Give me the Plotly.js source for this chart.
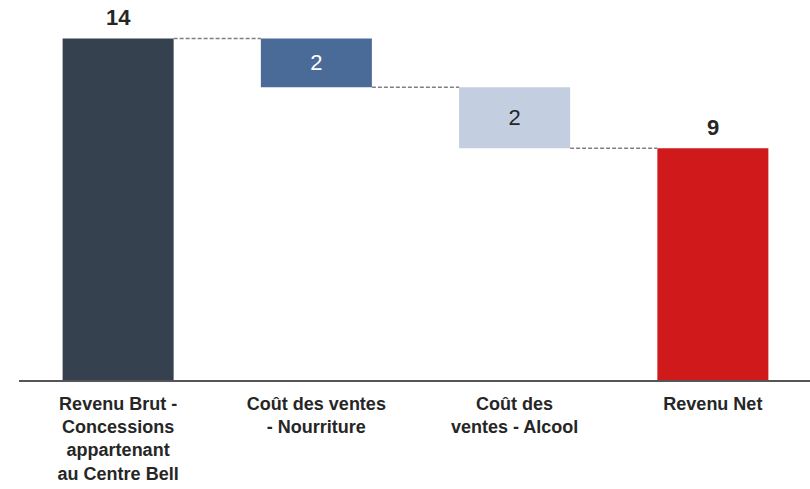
<!DOCTYPE html>
<html>
<head>
<meta charset="utf-8">
<script src="https://cdn.plot.ly/plotly-3.0.1.min.js"></script>
<style>
  html, body { margin: 0; padding: 0; background: #fff; }
  #chart { width: 810px; height: 489px; }
</style>
</head>
<body>
<div id="chart"></div>
<script>
// étapes du waterfall
const categories = [
  "Revenu Brut -<br>Concessions<br>appartenant<br>au Centre Bell",
  "Coût des ventes<br>- Nourriture",
  "Coût des<br>ventes - Alcool",
  "Revenu Net",
];
const values = [14.0, -2.0, -2.5, 9.5];
const isTotal = [true, false, false, true];
const barColors = ["#36414f", "#4a6a98", "#c3cee0", "#d0191b"];
const innerTextColors = ["#ffffff", "#ffffff", "#262626", "#ffffff"];

// bases et hauteurs
const bases = [];
const heights = [];
const levels = [];
let running = 0;
values.forEach((v, i) => {
  if (isTotal[i]) {
    bases.push(0);
    heights.push(v);
    running = v;
  } else {
    bases.push(running + v);
    heights.push(-v);
    running = running + v;
  }
  levels.push(running);
});

const labels = values.map((v) => String(Math.floor(Math.abs(v))));
const barWidth = 0.56;
const font = "Liberation Sans, Arial, sans-serif";

const trace = {
  type: "bar",
  x: categories,
  y: heights,
  base: bases,
  width: barWidth,
  marker: { color: barColors },
  text: labels.map((t, i) => (isTotal[i] ? "" : t)),
  textposition: "inside",
  insidetextanchor: "middle",
  textfont: { family: font, size: 22, color: innerTextColors },
  hoverinfo: "skip",
};

// totaux au-dessus des barres
const annotations = values
  .map((v, i) => ({ v, i }))
  .filter((d) => isTotal[d.i])
  .map((d) => ({
    x: d.i,
    y: d.v,
    xref: "x",
    yref: "y",
    text: "<b>" + labels[d.i] + "</b>",
    showarrow: false,
    yanchor: "bottom",
    yshift: 6,
    font: { family: font, size: 22, color: "#262626" },
  }));

// connecteurs pointillés
const shapes = [];
for (let i = 0; i < values.length - 1; i++) {
  shapes.push({
    type: "line",
    xref: "x",
    yref: "y",
    x0: i + barWidth / 2,
    x1: i + 1 - barWidth / 2,
    y0: levels[i],
    y1: levels[i],
    line: { color: "#808080", width: 1.5, dash: "4px,2px" },
  });
}

const layout = {
  width: 810,
  height: 489,
  margin: { l: 19, r: 0, t: 14, b: 109 },
  paper_bgcolor: "#ffffff",
  plot_bgcolor: "#ffffff",
  showlegend: false,
  xaxis: {
    type: "category",
    range: [-0.5, 3.49],
    showline: true,
    linecolor: "#555555",
    linewidth: 2,
    showgrid: false,
    ticks: "",
    ticklabelstandoff: 6,
    tickfont: { family: font, size: 18, color: "#262626", weight: "bold" },
  },
  yaxis: {
    range: [0, 15],
    visible: false,
    showgrid: false,
    zeroline: false,
  },
  annotations: annotations,
  shapes: shapes,
};

Plotly.newPlot("chart", [trace], layout, { displayModeBar: false, staticPlot: true });
</script>
</body>
</html>
